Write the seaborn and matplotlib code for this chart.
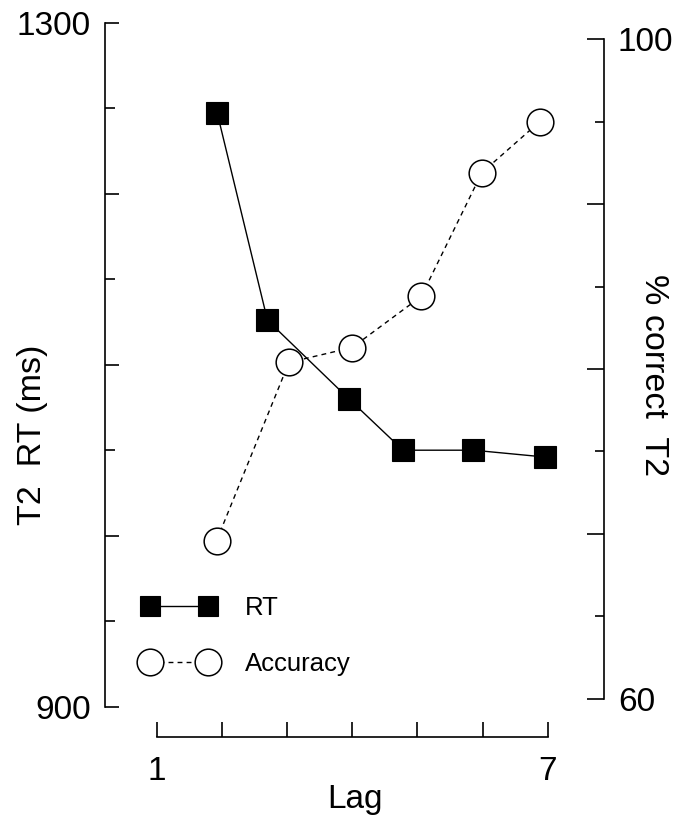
import matplotlib
matplotlib.use("Agg")
import matplotlib.pyplot as plt
import seaborn as sns
import pandas as pd

# T2 reaction time (ms) by lag
rt_lag = [1.93, 2.70, 3.95, 4.78, 5.86, 6.96]
rt_ms = [1247, 1126, 1080, 1050, 1050, 1046]

# T2 accuracy (% correct) by lag
acc_lag = [1.92, 3.03, 4.00, 5.06, 5.99, 6.88]
acc_pct = [69.6, 80.4, 81.3, 84.4, 91.9, 95.0]

lag_ticks = [1, 2, 3, 4, 5, 6, 7]
lag_labels = ["1", "", "", "", "", "", "7"]
rt_major = [900, 1000, 1100, 1200, 1300]
rt_major_labels = ["900", "", "", "", "1300"]
rt_minor = [950, 1050, 1150, 1250]
acc_major = [60, 70, 80, 90, 100]
acc_major_labels = ["60", "", "", "", "100"]
acc_minor = [65, 75, 85, 95]

sns.set_theme(style="ticks", rc={
    "axes.edgecolor": "black", "xtick.color": "black", "ytick.color": "black",
    "text.color": "black", "axes.labelcolor": "black",
})
plt.rcParams["font.family"] = ["Liberation Sans", "DejaVu Sans"]

W, H = 684, 822
fig = plt.figure(figsize=(W / 100, H / 100), dpi=100)
ax = fig.add_axes([105 / W, 1 - 706.7 / H, 499 / W, 684 / H])
ax2 = ax.twinx()

rt_df = pd.DataFrame({"Lag": rt_lag, "RT": rt_ms})
acc_df = pd.DataFrame({"Lag": acc_lag, "Accuracy": acc_pct})

sns.lineplot(data=rt_df, x="Lag", y="RT", ax=ax, color="black", linewidth=1.0,
             marker="s", markersize=15.5, markeredgewidth=0.8,
             markerfacecolor="black", markeredgecolor="black", label="RT")
sns.lineplot(data=acc_df, x="Lag", y="Accuracy", ax=ax2, color="black", linewidth=1.0,
             linestyle=(0, (3.5, 3)), marker="o", markersize=19.2, markeredgewidth=1.1,
             markerfacecolor="white", markeredgecolor="black", label="Accuracy")

for a in (ax, ax2):
    if a.get_legend() is not None:
        a.get_legend().remove()

ax.set_xlim(0.207, 7.864)
ax.set_ylim(900, 1300)
ax2.set_ylim(59.53, 100.99)

# spines
for s in ("top", "right"):
    ax.spines[s].set_visible(False)
for s in ("top", "left", "bottom"):
    ax2.spines[s].set_visible(False)
ax.spines["left"].set_bounds(900, 1300)
ax.spines["bottom"].set_bounds(1, 7)
ax.spines["bottom"].set_position(("outward", 21.8))
ax2.spines["right"].set_bounds(60, 100)
for sp in (ax.spines["left"], ax.spines["bottom"], ax2.spines["right"]):
    sp.set_linewidth(1.2)

# ticks
ax.set_xticks(lag_ticks, labels=lag_labels)
ax.tick_params(axis="x", direction="in", length=10.8, width=1.2, pad=13.5, labelsize=24)
ax.set_yticks(rt_major, labels=rt_major_labels)
ax.set_yticks(rt_minor, minor=True)
ax.tick_params(axis="y", which="major", direction="in", length=10.3, width=1.2, pad=10, labelsize=24)
ax.tick_params(axis="y", which="minor", direction="in", length=7.2, width=1.2, left=True)
ax2.set_yticks(acc_major, labels=acc_major_labels)
ax2.set_yticks(acc_minor, minor=True)
ax2.tick_params(axis="y", which="major", direction="in", length=12, width=1.2, pad=10, labelsize=24)
ax2.tick_params(axis="y", which="minor", direction="in", length=6.5, width=1.2, right=True)

# axis labels
ax.set_xlabel("Lag", fontsize=24)
ax.xaxis.set_label_coords(0.5, -0.1126)
ax.set_ylabel("T2  RT (ms)", fontsize=24.5)
ax.yaxis.set_label_coords(-0.114, 0.397)
ax2.set_ylabel("% correct  T2", fontsize=24.5, rotation=270, va="bottom")
ax2.yaxis.set_label_coords(1.068, 0.485)

# combined legend
h1, l1 = ax.get_legend_handles_labels()
h2, l2 = ax2.get_legend_handles_labels()
leg = ax2.legend(h1 + h2, l1 + l2, loc="upper left", bbox_to_anchor=(0.074, 0.162),
                 frameon=False, numpoints=2, handlelength=2.86, handletextpad=1.14,
                 labelspacing=1.25, borderpad=0, borderaxespad=0, fontsize=18.5)
for h in leg.legend_handles:
    if h.get_marker() == "s":
        h.set_markersize(14)

fig.savefig("out.png", dpi=100)
